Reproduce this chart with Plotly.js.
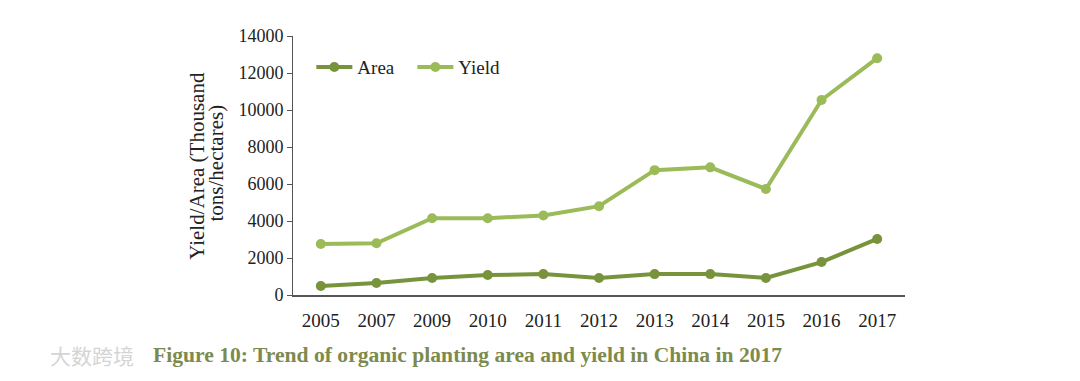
<!DOCTYPE html>
<html>
<head>
<meta charset="utf-8">
<script src="https://cdn.plot.ly/plotly-3.0.1.min.js"></script>
<style>html,body{margin:0;padding:0;background:#fff;}#chart{width:1080px;height:381px;}</style>
</head>
<body>
<div id="chart"></div>
<script>
const years = ['2005','2007','2009','2010','2011','2012','2013','2014','2015','2016','2017'];
const area = [490, 650, 920, 1080, 1130, 920, 1130, 1130, 920, 1780, 3030];
const yieldVals = [2760, 2800, 4150, 4150, 4300, 4800, 6750, 6900, 5730, 10540, 12800];
const yTicks = [0, 2000, 4000, 6000, 8000, 10000, 12000, 14000];
const yTitleLines = ['Yield/Area (Thousand', 'tons/hectares)'];

const serif = 'Liberation Serif, Times New Roman, serif';
const traces = [
  {x: years, y: area, name: 'Area', type: 'scatter', mode: 'lines+markers',
   line: {color: '#77933C', width: 4}, marker: {color: '#77933C', size: 10}},
  {x: years, y: yieldVals, name: 'Yield', type: 'scatter', mode: 'lines+markers',
   line: {color: '#9BBB59', width: 4}, marker: {color: '#9BBB59', size: 10}}
];
const layout = {
  width: 1080, height: 381,
  margin: {l: 293, r: 175, t: 36, b: 86},
  paper_bgcolor: '#fff', plot_bgcolor: '#fff',
  font: {family: serif, size: 18, color: '#222'},
  showlegend: true,
  legend: {orientation: 'h', x: 0.03, y: 0.88, xanchor: 'left', yanchor: 'middle',
           font: {family: serif, size: 19, color: '#222'}, bgcolor: 'rgba(0,0,0,0)',
           itemwidth: 36, entrywidth: 50, entrywidthmode: 'pixels'},
  xaxis: {type: 'category', range: [-0.5, 10.5], showgrid: false, zeroline: false,
          showline: true, linecolor: '#555', linewidth: 1.5, ticks: 'outside', ticklen: 8,
          tickcolor: 'rgba(0,0,0,0)',
          tickfont: {family: serif, size: 19, color: '#222'}},
  yaxis: {range: [0, 14000], tickvals: yTicks, ticktext: yTicks.map(String),
          showgrid: false, zeroline: false, showline: true, linecolor: '#555', linewidth: 1,
          ticks: 'outside', ticklen: 5, tickcolor: '#555',
          tickfont: {family: serif, size: 18, color: '#222'}},
  annotations: [
    {xref: 'paper', yref: 'paper', x: -0.158, y: 0.5, xanchor: 'center', yanchor: 'middle',
     text: yTitleLines[0], textangle: -90, showarrow: false,
     font: {family: serif, size: 21, color: '#222'}},
    {xref: 'paper', yref: 'paper', x: -0.1265, y: 0.51, xanchor: 'center', yanchor: 'middle',
     text: yTitleLines[1], textangle: -90, showarrow: false,
     font: {family: serif, size: 21, color: '#222'}},
    {xref: 'paper', yref: 'paper', x: -0.232, y: -0.23, xanchor: 'left', yanchor: 'middle',
     text: '<b>Figure 10: Trend of organic planting area and yield in China in 2017</b>',
     showarrow: false, font: {family: serif, size: 21.6, color: '#7D8A4E'}},
    {xref: 'paper', yref: 'paper', x: -0.4, y: -0.23, xanchor: 'left', yanchor: 'middle',
     text: '大数跨境', showarrow: false,
     font: {family: 'Noto Sans CJK SC', size: 21, color: '#d4d4d4'}}
  ]
};
Plotly.newPlot('chart', traces, layout, {displayModeBar: false, staticPlot: true});
</script>
</body>
</html>
